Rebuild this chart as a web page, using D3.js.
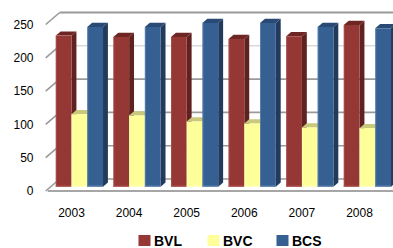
<!DOCTYPE html>
<html>
<head>
<meta charset="utf-8">
<script src="https://cdn.jsdelivr.net/npm/d3@7"></script>
<style>
  body { margin: 0; background: #fff; }
  svg { display: block; font-family: "Liberation Sans", Arial, sans-serif; }
</style>
</head>
<body>
<div id="chart"></div>
<script>
// data
const years = ["2003", "2004", "2005", "2006", "2007", "2008"];
const seriesNames = ["BVL", "BVC", "BCS"];
const bvl = [227, 225, 225, 222, 226, 243];
const bvc = [109, 107, 98, 95, 89, 88];
const bcs = [240, 240, 246, 246, 240, 238];
const yTicks = [0, 50, 100, 150, 200, 250];

const values = {BVL: bvl, BVC: bvc, BCS: bcs};

// colours: front / top / side
const colors = {
    BVL: {front: "#953735", top: "#6e2624", side: "#602220", edge: "#b8605e"},
    BVC: {front: "#ffff99", top: "#c9c97c", side: "#b5b56a", edge: "#ffffc8"},
    BCS: {front: "#376092", top: "#284a74", side: "#223a5c", edge: "#6f93c0"}
};

const width = 393, height = 248;
const depthX = 14, depthY = -12;     // full depth of the 3d box
const barFront = 0.35, barBack = 0.7; // bar position in depth

const svg = d3.select("#chart").append("svg")
    .attr("width", width)
    .attr("height", height);

svg.append("rect").attr("width", width).attr("height", height).attr("fill", "#fff");

// scales (front plane)
const x0 = d3.scaleBand()
    .domain(years)
    .range([45.7, 391.3])
    .paddingInner(0.18)
    .paddingOuter(0.09);

const x1 = d3.scaleBand()
    .domain(seriesNames)
    .range([0, x0.bandwidth()]);

const y = d3.scaleLinear()
    .domain([0, 250])
    .range([191, 24.5]);

// project a front-plane point back into the box
function proj(xf, v, d) {
    return [xf + d * depthX, y(v) + d * depthY];
}
const pts = arr => arr.map(p => p.join(",")).join(" ");

const left = x0.range()[0], right = x0.range()[1];

// back wall gridlines + side wall lines
yTicks.forEach(t => {
    const bl = proj(left, t, 1), br = proj(right, t, 1), fl = proj(left, t, 0);
    const light = t === 200;
    svg.append("line")
        .attr("x1", bl[0]).attr("y1", bl[1])
        .attr("x2", br[0]).attr("y2", br[1])
        .attr("stroke", light ? "#d9d9d9" : "#9a9a9a")
        .attr("stroke-width", t === 250 ? 2.2 : 1.6);
    svg.append("line")
        .attr("x1", fl[0]).attr("y1", fl[1])
        .attr("x2", bl[0]).attr("y2", bl[1])
        .attr("stroke", "#9a9a9a")
        .attr("stroke-width", 1.6);
});

// floor front edge
svg.append("line")
    .attr("x1", left + 2).attr("y1", y(0))
    .attr("x2", right + 4).attr("y2", y(0))
    .attr("stroke", "#a6a6a6")
    .attr("stroke-width", 2);

// y axis labels
svg.selectAll(".ylab")
    .data(yTicks)
    .join("text")
    .attr("class", "ylab")
    .attr("x", 33.5)
    .attr("y", d => y(d))
    .attr("dy", "0.36em")
    .attr("text-anchor", "end")
    .attr("font-size", 12)
    .attr("fill", "#000")
    .text(d => d);

// bars, drawn left to right so side faces get covered properly
years.forEach((yr, i) => {
    seriesNames.forEach(s => {
        const v = values[s][i];
        const xa = x0(yr) + x1(s), xb = xa + x1.bandwidth();
        const c = colors[s];
        const g = svg.append("g").attr("class", "bar");

        const ftl = proj(xa, v, barFront), ftr = proj(xb, v, barFront);
        const fbl = proj(xa, 0, barFront), fbr = proj(xb, 0, barFront);
        const btl = proj(xa, v, barBack), btr = proj(xb, v, barBack);
        const bbr = proj(xb, 0, barBack);

        // side face
        g.append("polygon")
            .attr("points", pts([ftr, btr, bbr, fbr]))
            .attr("fill", c.side);
        // top face
        g.append("polygon")
            .attr("points", pts([ftl, ftr, btr, btl]))
            .attr("fill", c.top);
        // front face
        g.append("rect")
            .attr("x", ftl[0])
            .attr("y", ftl[1])
            .attr("width", xb - xa)
            .attr("height", fbl[1] - ftl[1])
            .attr("fill", c.front);
        // light edge on the left and bottom
        g.append("line")
            .attr("x1", ftl[0] + 0.5).attr("y1", ftl[1])
            .attr("x2", fbl[0] + 0.5).attr("y2", fbl[1])
            .attr("stroke", c.edge).attr("stroke-width", 0.8).attr("opacity", 0.7);
        g.append("line")
            .attr("x1", fbl[0]).attr("y1", fbl[1] - 0.6)
            .attr("x2", fbr[0]).attr("y2", fbr[1] - 0.6)
            .attr("stroke", c.edge).attr("stroke-width", 1.2).attr("opacity", 0.8);
    });
});

// x axis labels
svg.selectAll(".xlab")
    .data(years)
    .join("text")
    .attr("class", "xlab")
    .attr("x", d => x0(d) + x0.bandwidth() / 2 - 3)
    .attr("y", 216.5)
    .attr("text-anchor", "middle")
    .attr("font-size", 12)
    .attr("fill", "#000")
    .text(d => d);

// legend
const legend = svg.append("g")
    .selectAll("g")
    .data(seriesNames)
    .join("g")
    .attr("transform", (d, i) => `translate(${138.5 + i * 69},0)`);

legend.append("rect")
    .attr("x", 0).attr("y", 235)
    .attr("width", 12).attr("height", 11)
    .attr("fill", d => colors[d].front);

legend.append("text")
    .attr("x", 15.5)
    .attr("y", 246)
    .attr("font-size", 14)
    .attr("font-weight", "bold")
    .attr("fill", "#000")
    .text(d => d);
</script>
</body>
</html>
